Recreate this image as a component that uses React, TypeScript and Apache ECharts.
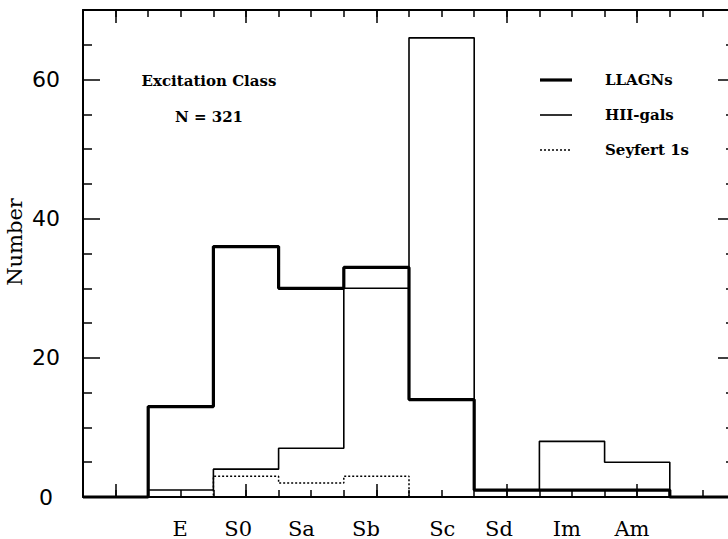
import React, { useEffect, useRef } from "react";
import * as echarts from "echarts";

// Histogram bin edges (bin index along the x axis)
const binEdges = [0, 1, 2, 3, 4, 5, 6, 7, 8, 9, 10];
// Morphological classes (bins 1..8), bin 0 and bin 9 are empty outer bins
const categories = ["E", "S0", "Sa", "Sb", "Sc", "Sd", "Im", "Am"];
const categoryLabelPos = [1.49, 2.38, 3.35, 4.34, 5.51, 6.38, 7.42, 8.42];

// Counts per bin
const llagns = [0, 13, 36, 30, 33, 14, 1, 1, 1, 0];
const hiiGals = [0, 1, 4, 7, 30, 66, 1, 8, 5, 0];
const seyfert1s = [0, 0, 3, 2, 3, 0, 0, 0, 0, 0];

// Tick labels / tick positions
const yLabels = [0, 20, 40, 60];
const yMinorTicks = [5, 10, 15, 25, 30, 35, 45, 50, 55, 65];
const xMajorTicks = [0.5, 2.5, 4.5, 6.5, 8.5];
const xMinorTicks = [0.5, 1, 1.5, 2, 2.5, 3, 3.5, 4, 4.5, 5, 5.5, 6, 6.5, 7, 7.5, 8, 8.5, 9, 9.5];

const seriesNames = ["LLAGNs", "HII-gals", "Seyfert 1s"];

const toSteps = (vals: number[]) =>
  vals.map((v, i) => [binEdges[i], v]).concat([[binEdges[vals.length], vals[vals.length - 1]]]);

const BLACK = "#000";
const serif = "DejaVu Serif";

export default function App() {
  const ref = useRef<HTMLDivElement>(null);
  useEffect(() => {
    if (!ref.current) return;
    const chart = echarts.init(ref.current, undefined, { renderer: "svg" });

    const xBase = (pos: "top" | "bottom") => ({
      type: "value",
      position: pos,
      min: 0,
      max: 10,
      splitLine: { show: false },
      axisLine: { show: false, onZero: false },
      axisLabel: { show: false },
    });
    const yBase = (pos: "left" | "right") => ({
      type: "value",
      position: pos,
      min: 0,
      max: 70,
      splitLine: { show: false },
      axisLine: { show: false, onZero: false },
      axisLabel: { show: false },
    });

    const styles = [
      { width: 3.2, type: "solid" as any },
      { width: 1.6, type: "solid" as any },
      { width: 1.5, type: [2, 2] as any },
    ];

    const legendGraphics: any[] = [];
    seriesNames.forEach((name, i) => {
      const y = 80 + i * 35;
      legendGraphics.push({
        type: "line",
        shape: { x1: 540, y1: y, x2: 572, y2: y },
        style: {
          stroke: BLACK,
          lineWidth: styles[i].width,
          lineDash: Array.isArray(styles[i].type) ? styles[i].type : null,
        },
      });
      legendGraphics.push({
        type: "text",
        x: 605,
        y,
        style: {
          text: name,
          fontFamily: serif,
          fontWeight: "bold",
          fontSize: 15,
          fill: BLACK,
          align: "left",
          verticalAlign: "middle",
        },
      });
    });

    const option: any = {
      animation: false,
      backgroundColor: "#fff",
      grid: { left: 83, top: 10, right: -7, bottom: 42, containLabel: false, outerBoundsMode: "none" },
      xAxis: [
        {
          ...xBase("bottom"),
          axisLine: { show: true, onZero: false, lineStyle: { color: BLACK, width: 2 } },
          axisTick: { show: true, inside: true, length: 13, customValues: xMajorTicks, lineStyle: { color: BLACK, width: 1.5 } },
          axisLabel: {
            show: true,
            customValues: categoryLabelPos,
            formatter: (v: number) => {
              let best = 0;
              categoryLabelPos.forEach((p, i) => {
                if (Math.abs(p - v) < Math.abs(categoryLabelPos[best] - v)) best = i;
              });
              return categories[best];
            },
            margin: 21,
            fontFamily: serif,
            fontSize: 21,
            color: BLACK,
          },
        },
        {
          ...xBase("bottom"),
          axisTick: { show: true, inside: true, length: 7, customValues: xMinorTicks, lineStyle: { color: BLACK, width: 1.5 } },
        },
        {
          ...xBase("top"),
          axisLine: { show: true, onZero: false, lineStyle: { color: BLACK, width: 2 } },
          axisTick: { show: true, inside: true, length: 13, customValues: xMajorTicks, lineStyle: { color: BLACK, width: 1.5 } },
        },
        {
          ...xBase("top"),
          axisTick: { show: true, inside: true, length: 7, customValues: xMinorTicks, lineStyle: { color: BLACK, width: 1.5 } },
        },
      ],
      yAxis: [
        {
          ...yBase("left"),
          name: "Number",
          nameLocation: "middle",
          nameRotate: 90,
          nameGap: 58,
          nameMoveOverlap: false,
          nameTextStyle: { fontFamily: serif, fontSize: 21, color: BLACK, padding: [0, 0, 0, 23] },
          axisLine: { show: true, onZero: false, lineStyle: { color: BLACK, width: 2 } },
          axisTick: { show: true, inside: true, length: 17, customValues: yLabels, lineStyle: { color: BLACK, width: 1.5 } },
          axisLabel: {
            show: true,
            customValues: yLabels,
            margin: 37,
            align: "center",
            fontFamily: "DejaVu Sans",
            fontSize: 22,
            color: BLACK,
          },
        },
        {
          ...yBase("left"),
          axisTick: { show: true, inside: true, length: 9, customValues: yMinorTicks, lineStyle: { color: BLACK, width: 1.5 } },
        },
        {
          ...yBase("right"),
          axisLine: { show: true, onZero: false, lineStyle: { color: BLACK, width: 2 } },
          axisTick: { show: true, inside: true, length: 17, customValues: yLabels, lineStyle: { color: BLACK, width: 1.5 } },
        },
        {
          ...yBase("right"),
          axisTick: { show: true, inside: true, length: 9, customValues: yMinorTicks, lineStyle: { color: BLACK, width: 1.5 } },
        },
      ],
      series: [
        {
          name: seriesNames[2],
          type: "line",
          step: "end",
          symbol: "none",
          clip: false,
          data: toSteps(seyfert1s),
          lineStyle: { color: BLACK, width: styles[2].width, type: styles[2].type },
          itemStyle: { color: BLACK },
          z: 3,
        },
        {
          name: seriesNames[1],
          type: "line",
          step: "end",
          symbol: "none",
          clip: false,
          data: toSteps(hiiGals),
          lineStyle: { color: BLACK, width: styles[1].width },
          itemStyle: { color: BLACK },
          z: 4,
        },
        {
          name: seriesNames[0],
          type: "line",
          step: "end",
          symbol: "none",
          clip: false,
          data: toSteps(llagns),
          lineStyle: { color: BLACK, width: styles[0].width },
          itemStyle: { color: BLACK },
          z: 5,
        },
      ],
      graphic: [
        {
          type: "text",
          x: 209,
          y: 81,
          style: {
            text: "Excitation Class",
            fontFamily: serif,
            fontWeight: "bold",
            fontSize: 15,
            fill: BLACK,
            align: "center",
            verticalAlign: "middle",
          },
        },
        {
          type: "text",
          x: 209,
          y: 117,
          style: {
            text: "N = 321",
            fontFamily: serif,
            fontWeight: "bold",
            fontSize: 15,
            fill: BLACK,
            align: "center",
            verticalAlign: "middle",
          },
        },
        ...legendGraphics,
      ],
    };

    chart.setOption(option);
    return () => chart.dispose();
  }, []);

  return (
    <div
      ref={ref}
      style={{ position: "fixed", left: 0, top: 0, width: 728, height: 539, background: "#fff" }}
    />
  );
}
